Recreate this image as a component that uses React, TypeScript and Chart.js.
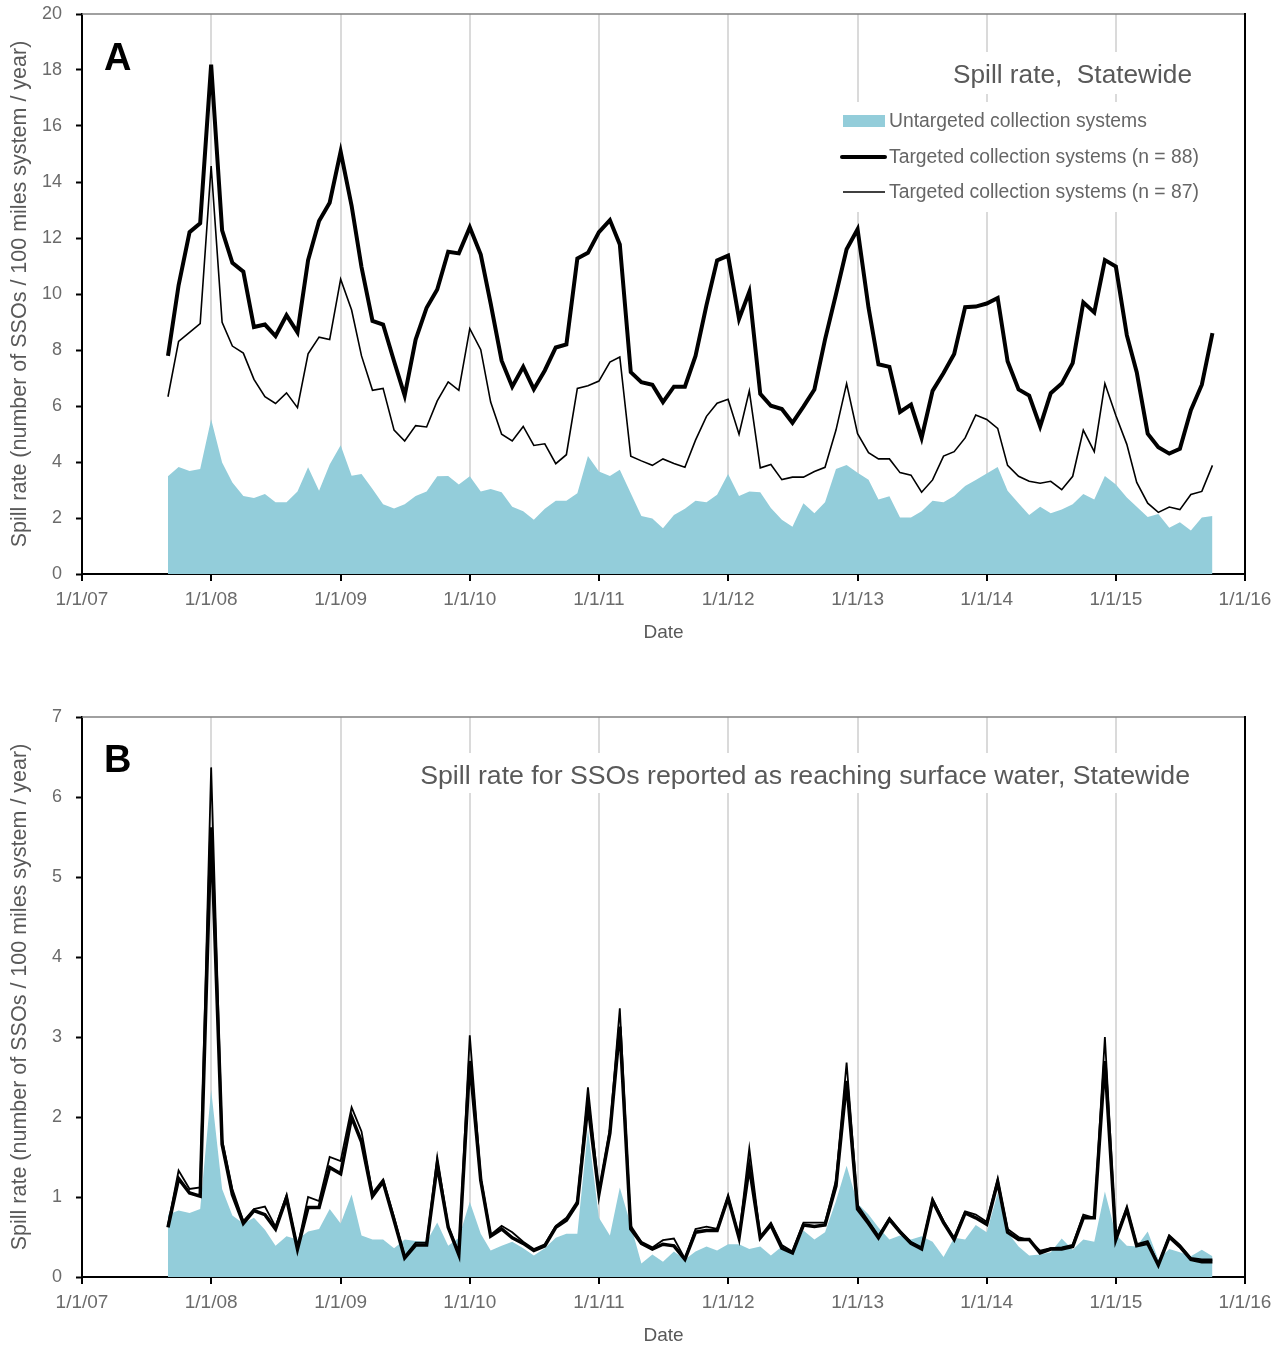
import React, { useEffect, useRef } from 'react';
import { Chart, registerables } from 'chart.js';

Chart.register(...registerables);

const FONT = '"Liberation Sans", Arial, sans-serif';
const AREA_COLOR = '#93CDDA';

// Monthly observations (first day of month)
const months = [
  '2007-09', '2007-10', '2007-11', '2007-12',
  '2008-01', '2008-02', '2008-03', '2008-04', '2008-05', '2008-06', '2008-07', '2008-08', '2008-09', '2008-10', '2008-11', '2008-12',
  '2009-01', '2009-02', '2009-03', '2009-04', '2009-05', '2009-06', '2009-07', '2009-08', '2009-09', '2009-10', '2009-11', '2009-12',
  '2010-01', '2010-02', '2010-03', '2010-04', '2010-05', '2010-06', '2010-07', '2010-08', '2010-09', '2010-10', '2010-11', '2010-12',
  '2011-01', '2011-02', '2011-03', '2011-04', '2011-05', '2011-06', '2011-07', '2011-08', '2011-09', '2011-10', '2011-11', '2011-12',
  '2012-01', '2012-02', '2012-03', '2012-04', '2012-05', '2012-06', '2012-07', '2012-08', '2012-09', '2012-10', '2012-11', '2012-12',
  '2013-01', '2013-02', '2013-03', '2013-04', '2013-05', '2013-06', '2013-07', '2013-08', '2013-09', '2013-10', '2013-11', '2013-12',
  '2014-01', '2014-02', '2014-03', '2014-04', '2014-05', '2014-06', '2014-07', '2014-08', '2014-09', '2014-10', '2014-11', '2014-12',
  '2015-01', '2015-02', '2015-03', '2015-04', '2015-05', '2015-06', '2015-07', '2015-08', '2015-09', '2015-10',
];

const yearTicks = ['2007-01', '2008-01', '2009-01', '2010-01', '2011-01', '2012-01', '2013-01', '2014-01', '2015-01', '2016-01'];
const yearTickLabels = ['1/1/07', '1/1/08', '1/1/09', '1/1/10', '1/1/11', '1/1/12', '1/1/13', '1/1/14', '1/1/15', '1/1/16'];

const legendLabels = [
  'Untargeted collection systems',
  'Targeted collection systems (n = 88)',
  'Targeted collection systems (n = 87)',
];

const titleA = 'Spill rate,  Statewide';
const titleB = 'Spill rate for SSOs reported as reaching surface water, Statewide';
const yAxisTitle = 'Spill rate (number of SSOs / 100 miles system / year)';
const xAxisTitle = 'Date';

// Panel A
const targeted88A = [
  7.79, 10.31, 12.21, 12.53, 18.19, 12.27, 11.11, 10.80, 8.82, 8.91,
  8.50, 9.24, 8.63, 11.21, 12.61, 13.26, 15.09, 13.15, 10.96, 9.04,
  8.91, 7.60, 6.37, 8.37, 9.51, 10.16, 11.51, 11.45, 12.38, 11.41,
  9.66, 7.62, 6.69, 7.40, 6.60, 7.27, 8.09, 8.20, 11.27, 11.47,
  12.21, 12.64, 11.77, 7.21, 6.85, 6.76, 6.14, 6.69, 6.69, 7.79,
  9.60, 11.20, 11.37, 9.11, 10.08, 6.43, 6.01, 5.89, 5.40, 5.98,
  6.59, 8.37, 9.99, 11.60, 12.31, 9.51, 7.49, 7.40, 5.79, 6.05,
  4.86, 6.54, 7.18, 7.86, 9.53, 9.55, 9.66, 9.86, 7.60, 6.59,
  6.37, 5.27, 6.46, 6.80, 7.53, 9.70, 9.34, 11.21, 10.98, 8.53,
  7.21, 5.01, 4.53, 4.30, 4.47, 5.85, 6.76, 8.60,
];
const targeted87A = [
  6.33, 8.31, 8.63, 8.94, 14.57, 8.99, 8.14, 7.89, 6.95, 6.33,
  6.09, 6.47, 5.94, 7.86, 8.46, 8.37, 10.53, 9.43, 7.79, 6.56,
  6.63, 5.14, 4.75, 5.30, 5.25, 6.18, 6.86, 6.56, 8.76, 8.01,
  6.14, 4.99, 4.75, 5.27, 4.59, 4.65, 3.94, 4.26, 6.63, 6.72,
  6.89, 7.57, 7.75, 4.21, 4.04, 3.88, 4.11, 3.95, 3.81, 4.78,
  5.63, 6.10, 6.24, 4.99, 6.54, 3.79, 3.91, 3.37, 3.46, 3.46,
  3.66, 3.81, 5.14, 6.80, 5.01, 4.33, 4.11, 4.11, 3.62, 3.53,
  2.92, 3.36, 4.21, 4.37, 4.86, 5.68, 5.52, 5.20, 3.88, 3.49,
  3.31, 3.24, 3.31, 3.01, 3.49, 5.14, 4.37, 6.80, 5.66, 4.63,
  3.27, 2.53, 2.20, 2.39, 2.30, 2.84, 2.95, 3.88,
];
const untargetedA = [
  3.49, 3.82, 3.68, 3.75, 5.53, 3.98, 3.27, 2.79, 2.71, 2.86,
  2.56, 2.56, 2.95, 3.81, 2.97, 3.91, 4.60, 3.51, 3.57, 3.04,
  2.49, 2.34, 2.49, 2.79, 2.95, 3.49, 3.50, 3.20, 3.49, 2.95,
  3.04, 2.92, 2.40, 2.24, 1.94, 2.33, 2.62, 2.62, 2.88, 4.21,
  3.66, 3.50, 3.72, 2.88, 2.07, 1.98, 1.63, 2.11, 2.33, 2.62,
  2.56, 2.83, 3.57, 2.79, 2.95, 2.92, 2.36, 1.94, 1.69, 2.53,
  2.17, 2.56, 3.75, 3.89, 3.62, 3.37, 2.66, 2.78, 2.02, 2.02,
  2.24, 2.62, 2.56, 2.79, 3.14, 3.36, 3.59, 3.82, 2.97, 2.53,
  2.11, 2.40, 2.17, 2.30, 2.49, 2.86, 2.66, 3.50, 3.20, 2.73,
  2.40, 2.04, 2.14, 1.65, 1.85, 1.55, 2.02, 2.07,
];

// Panel B
const targeted88B = [
  0.62, 1.23, 1.05, 1.01, 5.62, 1.66, 1.03, 0.67, 0.83, 0.78,
  0.60, 0.99, 0.35, 0.87, 0.87, 1.37, 1.29, 2.00, 1.69, 1.01,
  1.19, 0.71, 0.24, 0.40, 0.40, 1.40, 0.62, 0.28, 2.70, 1.21,
  0.51, 0.60, 0.49, 0.42, 0.33, 0.39, 0.62, 0.71, 0.92, 2.16,
  1.04, 1.80, 3.13, 0.60, 0.42, 0.35, 0.41, 0.39, 0.22, 0.56,
  0.58, 0.58, 0.99, 0.49, 1.38, 0.49, 0.65, 0.36, 0.30, 0.65,
  0.63, 0.65, 1.14, 2.45, 0.85, 0.67, 0.49, 0.72, 0.56, 0.42,
  0.35, 0.95, 0.68, 0.47, 0.80, 0.74, 0.66, 1.19, 0.56, 0.47,
  0.47, 0.30, 0.35, 0.35, 0.38, 0.74, 0.74, 2.70, 0.47, 0.85,
  0.39, 0.42, 0.15, 0.50, 0.38, 0.22, 0.19, 0.19,
];
const targeted87B = [
  0.65, 1.33, 1.10, 1.12, 6.37, 1.72, 1.10, 0.70, 0.85, 0.88,
  0.63, 1.02, 0.37, 1.00, 0.95, 1.50, 1.45, 2.12, 1.82, 1.05,
  1.22, 0.75, 0.26, 0.43, 0.43, 1.50, 0.64, 0.30, 3.02, 1.25,
  0.53, 0.64, 0.56, 0.44, 0.35, 0.41, 0.64, 0.74, 0.95, 2.37,
  1.06, 1.85, 3.36, 0.64, 0.44, 0.37, 0.46, 0.48, 0.23, 0.60,
  0.63, 0.60, 1.01, 0.51, 1.61, 0.51, 0.68, 0.40, 0.32, 0.68,
  0.68, 0.68, 1.21, 2.68, 0.90, 0.70, 0.52, 0.74, 0.58, 0.44,
  0.37, 0.98, 0.70, 0.49, 0.82, 0.78, 0.69, 1.22, 0.60, 0.50,
  0.46, 0.33, 0.36, 0.37, 0.40, 0.78, 0.74, 3.00, 0.50, 0.87,
  0.41, 0.45, 0.16, 0.52, 0.40, 0.24, 0.22, 0.22,
];
const untargetedB = [
  0.78, 0.83, 0.80, 0.85, 2.34, 1.10, 0.77, 0.67, 0.74, 0.59,
  0.39, 0.51, 0.47, 0.57, 0.60, 0.85, 0.67, 1.03, 0.52, 0.47,
  0.47, 0.36, 0.47, 0.45, 0.44, 0.68, 0.39, 0.49, 0.94, 0.54,
  0.33, 0.39, 0.44, 0.36, 0.27, 0.36, 0.49, 0.54, 0.54, 1.85,
  0.74, 0.52, 1.12, 0.65, 0.17, 0.28, 0.19, 0.32, 0.22, 0.32,
  0.38, 0.33, 0.41, 0.41, 0.35, 0.38, 0.27, 0.38, 0.30, 0.58,
  0.47, 0.56, 0.95, 1.39, 0.92, 0.78, 0.62, 0.47, 0.52, 0.47,
  0.51, 0.44, 0.25, 0.49, 0.47, 0.65, 0.56, 1.05, 0.56, 0.38,
  0.27, 0.28, 0.31, 0.48, 0.34, 0.47, 0.44, 1.07, 0.53, 0.39,
  0.38, 0.57, 0.22, 0.35, 0.31, 0.26, 0.34, 0.26,
];

function dayOffset(ym: string): number {
  const [y, m] = ym.split('-').map(Number);
  return (Date.UTC(y, m - 1, 1) - Date.UTC(2007, 0, 1)) / 86400000;
}

function toPoints(values: number[]) {
  return months.map((m, i) => ({ x: dayOffset(m), y: values[i] }));
}

function fitFont(ctx: CanvasRenderingContext2D, text: string, width: number, weight = '') {
  ctx.font = `${weight} 24px ${FONT}`;
  const w = ctx.measureText(text).width;
  const size = (24 * width) / w;
  ctx.font = `${weight} ${size.toFixed(2)}px ${FONT}`;
}

const decorPlugin = {
  id: 'panelDecor',
  afterDraw(chart: any, _args: any, opts: any) {
    const { ctx, chartArea: a } = chart;
    ctx.save();
    // top (grey) and right (black) frame
    ctx.strokeStyle = '#808080';
    ctx.lineWidth = 1.5;
    ctx.beginPath();
    ctx.moveTo(a.left, a.top);
    ctx.lineTo(a.right, a.top);
    ctx.stroke();
    ctx.strokeStyle = '#000';
    ctx.lineWidth = 2;
    ctx.beginPath();
    ctx.moveTo(a.right, a.top - 1);
    ctx.lineTo(a.right, a.bottom + 1);
    ctx.stroke();

    // white backgrounds behind text
    ctx.fillStyle = '#fff';
    for (const b of opts.boxes) ctx.fillRect(b[0], b[1], b[2], b[3]);

    // panel letter
    ctx.fillStyle = '#000';
    ctx.font = `bold 38px ${FONT}`;
    ctx.textAlign = 'left';
    ctx.textBaseline = 'middle';
    ctx.fillText(opts.letter, opts.letterX, opts.letterY);

    // title fitted to its width
    ctx.fillStyle = '#595959';
    fitFont(ctx, opts.title, opts.titleWidth);
    ctx.textAlign = 'right';
    ctx.fillText(opts.title, opts.titleRight, opts.titleY);

    if (opts.legend) {
      const ds = chart.data.datasets;
      const lx = opts.legend.x;
      const rows = opts.legend.rows;
      // area swatch
      ctx.fillStyle = ds[2].backgroundColor;
      ctx.fillRect(lx + 2, rows[0] - 6, 42, 12);
      // thick line
      ctx.strokeStyle = '#000';
      ctx.lineWidth = ds[0].borderWidth;
      ctx.lineCap = 'round';
      ctx.beginPath();
      ctx.moveTo(lx + 1, rows[1]);
      ctx.lineTo(lx + 44, rows[1]);
      ctx.stroke();
      ctx.lineCap = 'butt';
      ctx.lineWidth = ds[1].borderWidth;
      ctx.beginPath();
      ctx.moveTo(lx + 2, rows[2]);
      ctx.lineTo(lx + 44, rows[2]);
      ctx.stroke();
      ctx.fillStyle = '#666';
      fitFont(ctx, ds[0].label, opts.legend.textWidth);
      ctx.textAlign = 'left';
      ctx.textBaseline = 'middle';
      const order = [2, 0, 1];
      order.forEach((di, r) => {
        ctx.fillText(ds[di].label, lx + 48, rows[r] + 1);
      });
    }
    ctx.restore();
  },
};

type Panel = {
  thick: number[];
  thin: number[];
  area: number[];
  ymax: number;
  step: number;
  top: number;
  xAxisH: number;
  dateBottom: number;
  thickW: number;
  thinW: number;
  decor: any;
};

function makeConfig(p: Panel): any {
  return {
    type: 'line',
    data: {
      datasets: [
        {
          label: legendLabels[1],
          data: toPoints(p.thick),
          borderColor: '#000',
          borderWidth: p.thickW,
          pointRadius: 0,
          fill: false,
          tension: 0,
        },
        {
          label: legendLabels[2],
          data: toPoints(p.thin),
          borderColor: '#000',
          borderWidth: p.thinW,
          pointRadius: 0,
          fill: false,
          tension: 0,
        },
        {
          label: legendLabels[0],
          data: toPoints(p.area),
          borderColor: 'rgba(0,0,0,0)',
          borderWidth: 0,
          backgroundColor: AREA_COLOR,
          pointRadius: 0,
          fill: 'origin',
          tension: 0,
        },
      ],
    },
    options: {
      responsive: false,
      animation: false,
      events: [],
      layout: { padding: { left: 0, right: 41, top: p.top, bottom: 0 } },
      plugins: {
        legend: { display: false },
        tooltip: { enabled: false },
        panelDecor: p.decor,
      },
      scales: {
        x: {
          type: 'linear',
          min: dayOffset(yearTicks[0]),
          max: dayOffset(yearTicks[yearTicks.length - 1]),
          afterBuildTicks: (scale: any) => {
            scale.ticks = yearTicks.map((t) => ({ value: dayOffset(t) }));
          },
          afterFit: (scale: any) => {
            scale.height = p.xAxisH;
          },
          ticks: {
            autoSkip: false,
            maxRotation: 0,
            color: '#6b6b6b',
            font: { family: FONT, size: 19 },
            padding: 7,
            callback: (_v: any, i: number) => yearTickLabels[i],
          },
          grid: {
            color: '#dadada',
            lineWidth: 2,
            tickColor: '#000',
            tickLength: 7,
            tickWidth: 2,
          },
          border: { color: '#000', width: 2 },
          title: {
            display: true,
            text: xAxisTitle,
            color: '#595959',
            font: { family: FONT, size: 19 },
            padding: { top: 0, bottom: p.dateBottom },
          },
        },
        y: {
          min: 0,
          max: p.ymax,
          afterFit: (scale: any) => {
            scale.width = 82;
            scale.paddingTop = 10;
            scale.paddingBottom = 10;
          },
          ticks: {
            stepSize: p.step,
            color: '#6b6b6b',
            font: { family: FONT, size: 18 },
            padding: 14,
          },
          grid: {
            drawOnChartArea: false,
            tickColor: '#000',
            tickLength: 6,
            tickWidth: 2,
          },
          border: { color: '#000', width: 2 },
          title: {
            display: true,
            text: yAxisTitle,
            color: '#595959',
            font: { family: FONT, size: 21.5 },
            padding: { top: 7, bottom: 0 },
          },
        },
      },
    },
    plugins: [decorPlugin],
  };
}

const panelA: Panel = {
  thick: targeted88A,
  thin: targeted87A,
  area: untargetedA,
  ymax: 20,
  step: 2,
  top: 14,
  xAxisH: 86,
  dateBottom: 16,
  thickW: 4,
  thinW: 1.6,
  decor: {
    letter: 'A',
    letterX: 104,
    letterY: 60,
    title: titleA,
    titleWidth: 239,
    titleRight: 1192,
    titleY: 76,
    boxes: [
      [935, 52, 275, 42],
      [836, 102, 380, 110],
    ],
    legend: { x: 841, rows: [121, 157, 192], textWidth: 310 },
  },
};

const panelB: Panel = {
  thick: targeted88B,
  thin: targeted87B,
  area: untargetedB,
  ymax: 7,
  step: 1,
  top: 57,
  xAxisH: 70,
  dateBottom: 0,
  thickW: 3.5,
  thinW: 1.8,
  decor: {
    letter: 'B',
    letterX: 104,
    letterY: 102,
    title: titleB,
    titleWidth: 770,
    titleRight: 1190,
    titleY: 117,
    boxes: [[410, 93, 795, 40]],
    legend: null,
  },
};

export default function App() {
  const refA = useRef<HTMLCanvasElement | null>(null);
  const refB = useRef<HTMLCanvasElement | null>(null);

  useEffect(() => {
    const charts: Chart[] = [];
    if (refA.current) charts.push(new Chart(refA.current, makeConfig(panelA)));
    if (refB.current) charts.push(new Chart(refB.current, makeConfig(panelB)));
    return () => {
      charts.forEach((c) => c.destroy());
    };
  }, []);

  return (
    <div style={{ position: 'absolute', left: 0, top: 0, width: 1286, height: 1347, background: '#fff', overflow: 'hidden' }}>
      <canvas ref={refA} width={1286} height={660} style={{ position: 'absolute', left: 0, top: 0 }} />
      <canvas ref={refB} width={1286} height={687} style={{ position: 'absolute', left: 0, top: 660 }} />
    </div>
  );
}
